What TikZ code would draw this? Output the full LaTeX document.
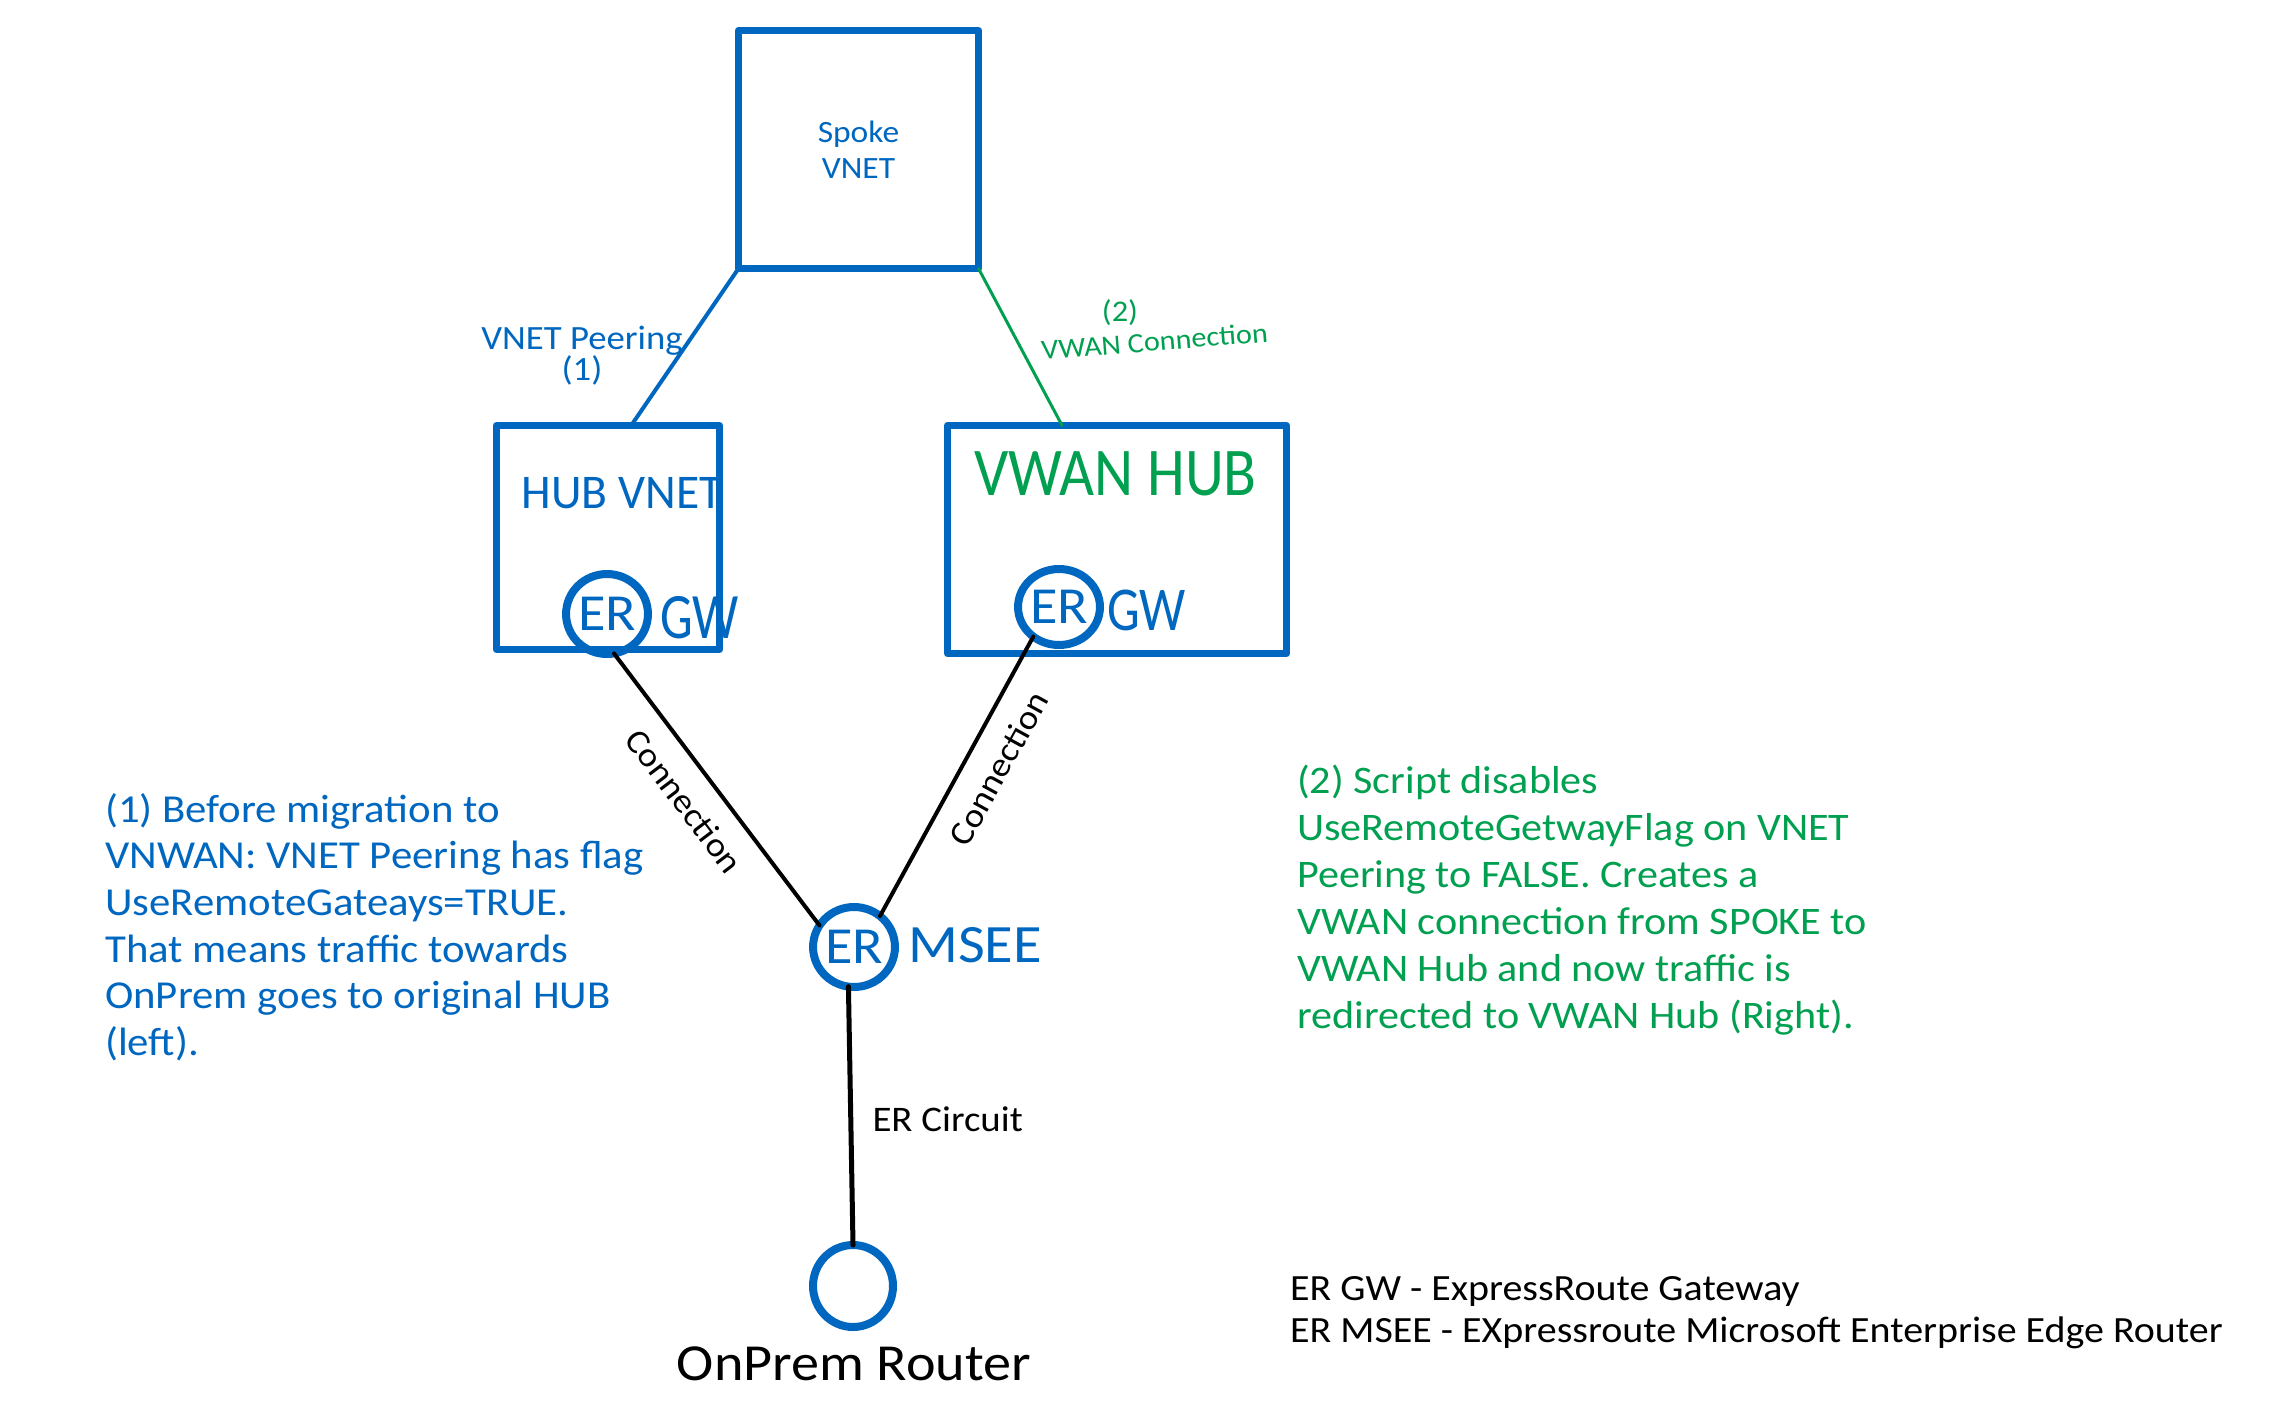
\documentclass[tikz,border=0pt]{standalone}
\usepackage{fontspec}
\usepackage{graphicx}
\newfontfamily\hand[FakeStretch=1.08]{Carlito}
\usetikzlibrary{shapes.geometric,calc}
\definecolor{wbblue}{RGB}{0,103,192}
\definecolor{wbgreen}{RGB}{0,160,80}
\newcommand\fs[2]{\fontsize{#1}{#2}\selectfont}
\newcommand\tall[2]{\scalebox{1}[#1]{#2}}
\tikzset{
  box/.style={draw=wbblue, line width=7pt, line join=round, line cap=round, inner sep=0pt, outer sep=0pt},
  ring/.style={ellipse, draw=wbblue, line width=8pt, inner sep=0pt, outer sep=0pt, text=wbblue, font={\hand\fs{52}{52}}},
  link/.style={line width=4pt, line cap=round},
  conlbl/.style={sloped, below, inner sep=19pt, font={\hand\fs{34}{34}}, text=black},
  gwlbl/.style={anchor=base west, inner sep=0pt, text=wbblue},
}
\begin{document}
\begin{tikzpicture}[x=1pt,y=-1pt]
\useasboundingbox[fill=white] (0,0) rectangle (2272,1401);

% boxes
\node[box, minimum width=240pt, minimum height=238pt, align=center, text=wbblue,
      font={\hand\fs{31}{36}}] (spoke) at (858.5,149.5) {Spoke\\VNET};
\node[box, minimum width=223pt, minimum height=224pt] (hub) at (608,537.5) {};
\node[anchor=base, inner sep=0pt, text=wbblue, font={\hand\fs{44}{44}}] (hubtxt) at (622,508) {\tall{1.1}{HUB VNET}};
\node[box, minimum width=339pt, minimum height=228pt] (vwan) at (1117,539.5) {};
\node[anchor=base, inner sep=0pt, text=wbgreen, font={\hand\fs{56}{56}}] (vwantxt) at (1115.5,495) {\tall{1.22}{VWAN HUB}};

% gateways
\node[ring, minimum width=81pt, minimum height=80pt] (hubgw) at (607,614) {ER};
\node[gwlbl, font={\hand\fs{48}{48}}] (hubgwl) at (660,638) {\tall{1.35}{GW}};
\node[ring, minimum width=72pt, minimum height=76pt] (vwangw) at (1059,607) {ER};
\node[gwlbl, font={\hand\fs{48}{48}}] (vwangwl) at (1107,630) {\tall{1.3}{GW}};
\node[ring, minimum width=76pt, minimum height=80pt] (msee) at (854,947) {ER};
\node[gwlbl, font={\hand\fs{54}{54}}] (mseel) at (908,962) {MSEE};
\node[ellipse, draw=wbblue, line width=8pt, inner sep=0pt, outer sep=0pt,
      minimum width=80pt, minimum height=82pt] (onprem) at (853,1286) {};
\node[anchor=base, inner sep=0pt, font={\hand\fs{52}{52}}] (onpreml) at (854,1380) {OnPrem Router};

% connectors
\draw[link, wbblue] (spoke.south west) -- ($(hub.north west)!0.604!(hub.north east)$);
\draw[link, wbgreen, line width=3pt] (spoke.south east) -- ($(vwan.north west)!0.338!(vwan.north east)$);
\draw[link] (hubgw.-80) -- node[conlbl, pos=0.47] {Connection} (msee.148);
\draw[link] (msee.50) -- node[conlbl, pos=0.585] {Connection} (vwangw.229);
\draw[link, line width=5pt] (msee.262) -- node[pos=0.56, anchor=base west, inner sep=0pt, xshift=19pt,
      font={\hand\fs{36}{36}}] {ER Circuit} (onprem.north);

% connector captions
\node[anchor=north, inner sep=0pt, align=center, text=wbblue, font={\hand\fs{34}{31}}] (peerlbl)
   at (582,319) {\rule{0pt}{30pt}VNET Peering\\(1)};
\node[anchor=base, inner sep=0pt, text=wbgreen, font={\hand\fs{30}{30}}] (vwannum) at (1120,321) {(2)};
\node[anchor=base west, inner sep=0pt, rotate=4.6, text=wbgreen, font={\hand\fs{28}{28}}] (vwanlbl)
   at (1042,360) {VWAN Connection};

% notes
\node[anchor=north west, inner sep=0pt, align=left, text=wbblue, font={\hand\fs{39.6}{46.6}}] (leftnote)
   at (105,789.4) {\strut(1) Before migration to\\VNWAN: VNET Peering has flag\\UseRemoteGateays=TRUE.\\That means traffic towards\\OnPrem goes to original HUB\\(left).};
\node[anchor=north west, inner sep=0pt, align=left, text=wbgreen, font={\hand\fs{39}{47}}] (rightnote)
   at (1297,760.1) {\strut(2) Script disables\\UseRemoteGetwayFlag on VNET\\Peering to FALSE. Creates a\\VWAN connection from SPOKE to\\VWAN Hub and now traffic is\\redirected to VWAN Hub (Right).};
\node[anchor=north west, inner sep=0pt, align=left, font={\hand\fs{37}{42}}] (legend)
   at (1290,1270.6) {\strut ER GW - ExpressRoute Gateway\\ER MSEE - EXpressroute Microsoft Enterprise Edge Router};
\end{tikzpicture}
\end{document}
